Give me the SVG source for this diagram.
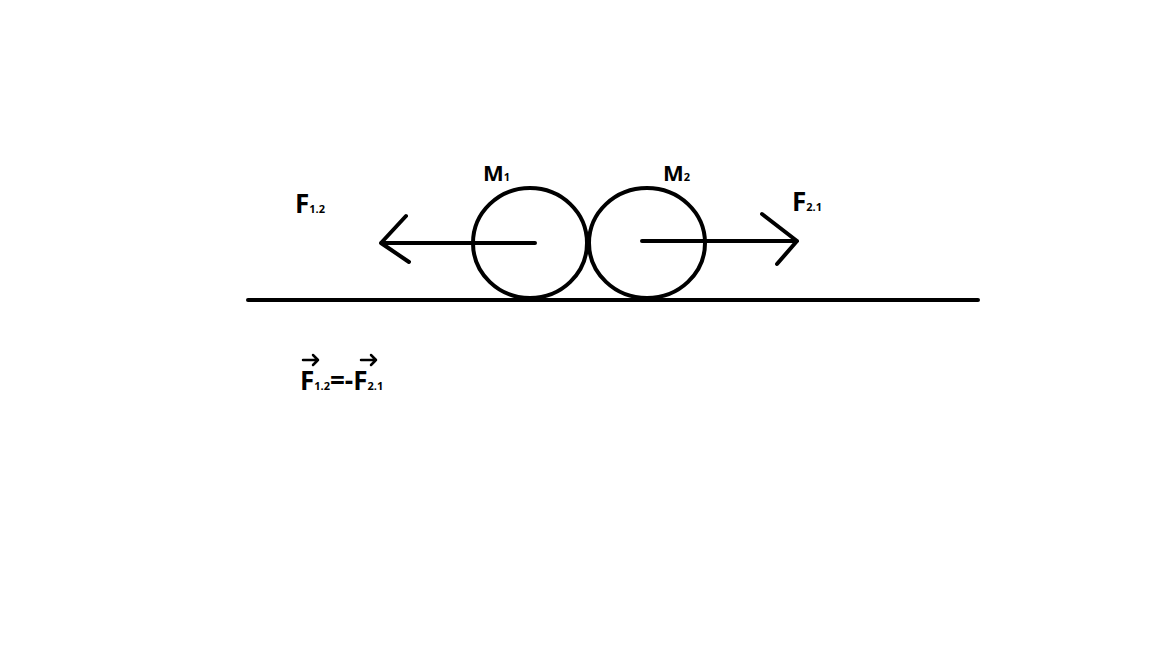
<svg xmlns="http://www.w3.org/2000/svg" width="1152" height="648" viewBox="0 0 1152 648">
<style>
.s{fill:none;stroke:#000;stroke-width:4;stroke-linecap:round;stroke-linejoin:round}
.t{font-family:"Open Sans","Liberation Sans",sans-serif;font-weight:bold;fill:#000}
.b{font-size:26px}.m{font-size:22px}.sub{font-size:11px}
</style>
<rect width="1152" height="648" fill="#fff"/>
<g id="ground"><line class="s" x1="248" y1="300" x2="978" y2="300"/></g>
<g id="m1"><ellipse class="s" cx="530" cy="243" rx="57" ry="55"/><text class="t m" x="483" y="181">M<tspan class="sub">1</tspan></text></g>
<g id="m2"><ellipse class="s" cx="647" cy="243" rx="58" ry="55"/><text class="t m" x="663" y="181">M<tspan class="sub">2</tspan></text></g>
<g id="connectors">
<path class="s" d="M535 243H381M406 216L381 243L409 262"/>
<path class="s" d="M642 241H797M762 214L797 241L777 264"/>
</g>
<g id="labels">
<text class="t b" x="295" y="213">F<tspan class="sub">1.2</tspan></text>
<text class="t b" x="792" y="211">F<tspan class="sub">2.1</tspan></text>
<text class="t b" x="300" y="390">F<tspan class="sub">1.2</tspan>=-F<tspan class="sub">2.1</tspan></text>
<path class="s" stroke-width="2.5" d="M303 360H318M313 355L318 360L313 365M361 360H376M371 355L376 360L371 365" style="stroke-width:2.5"/>
</g>
</svg>
